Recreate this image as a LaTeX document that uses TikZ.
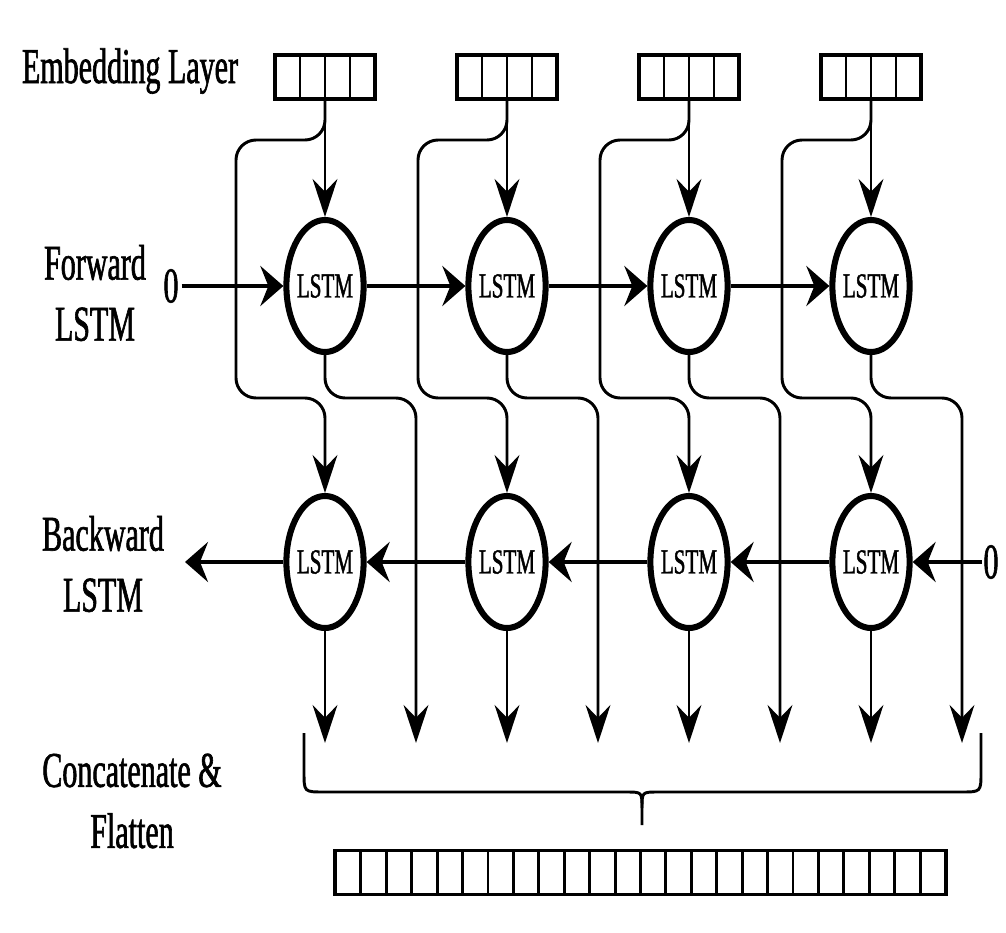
\documentclass[tikz,border=0pt]{standalone}
\usepackage{fontspec}
\setmainfont{Liberation Serif}[FakeStretch=0.6, FakeBold=1.2]
\usetikzlibrary{arrows.meta, shapes.geometric}

\begin{document}
\begin{tikzpicture}[x=0.025cm, y=-0.025cm,
	lstm/.style={ellipse, draw, line width=4.3pt, minimum width=1.93cm, minimum height=3.3cm, inner ysep=0pt, inner xsep=-3pt, font=\fontsize{25}{25}\selectfont},
	vec/.style={draw, line width=2.8pt, inner sep=0pt, minimum height=1.1cm},
	lbl/.style={align=center, font=\fontsize{35.6}{43.4}\selectfont},
	flow/.style={line width=2.8pt, -{Stealth[length=0.575cm, width=1cm, inset=0.2cm]}},
	feed/.style={line width=2.1pt, rounded corners=0.5cm, -{Stealth[length=0.95cm, width=0.62cm, inset=0.32cm]}},
	brace/.style={line width=2.1pt}]

	\useasboundingbox (0,0) rectangle (1006,933);

	% row labels
	\node (lemb) [lbl, anchor=base] at (130,83) {Embedding Layer};
	\node (lfwd) [lbl] at (95,293) {Forward\\LSTM};
	\node (lbwd) [lbl] at (103,564) {Backward\\LSTM};
	\node (lcat) [lbl] at (132,801) {Concatenate \&\\Flatten};

	% one column per word
	\foreach \i/\x in {1/325, 2/507, 3/689, 4/871} {
		\node (emb\i) [vec, minimum width=2.5cm] at (\x,77) {};
		\foreach \k in {1,2,3}
			\draw [line width=2.1pt] (\x-50+25*\k,55) -- (\x-50+25*\k,99);
		\node (fwd\i) [lstm] at (\x,286) {LSTM};
		\node (bwd\i) [lstm] at (\x,562) {LSTM};
		\coordinate (of\i) at (\x+91,743);
		\coordinate (ob\i) at (\x,743);

		\draw [feed] (emb\i) -- (fwd\i);
		\draw [feed] (emb\i.south) -- (\x,140) -- (\x-89,140) -- (\x-89,398) -- (\x,398) -- (bwd\i.north);
		\draw [feed] (fwd\i.south) -- (\x,398) -- (\x+91,398) -- (of\i);
		\draw [feed] (bwd\i.south) -- (ob\i);
	}

	% hidden states
	\node (zf) [lbl, inner sep=2pt] at (171,286) {0};
	\node (zb) [lbl, inner sep=1pt] at (991,562) {0};
	\coordinate (out) at (185,562);

	\path [flow]
		(zf) edge (fwd1)
		(fwd1) edge (fwd2)
		(fwd2) edge (fwd3)
		(fwd3) edge (fwd4)
		(zb) edge (bwd4)
		(bwd4) edge (bwd3)
		(bwd3) edge (bwd2)
		(bwd2) edge (bwd1)
		(bwd1) edge (out);

	% concatenation
	\draw [brace] (304,733) -- (304,772) .. controls (304,792) .. (324,792) -- (626,792) .. controls (642,792) .. (642,808) -- (642,825);
	\draw [brace] (981,733) -- (981,772) .. controls (981,792) .. (961,792) -- (658,792) .. controls (642,792) .. (642,808);

	\node (flat) [vec, minimum width=15.25cm] at (640.5,872.5) {};
	\foreach \k in {1,...,23}
		\draw [line width=2.1pt] (335.5+610/24*\k,850.5) -- (335.5+610/24*\k,894.5);

\end{tikzpicture}
\end{document}
